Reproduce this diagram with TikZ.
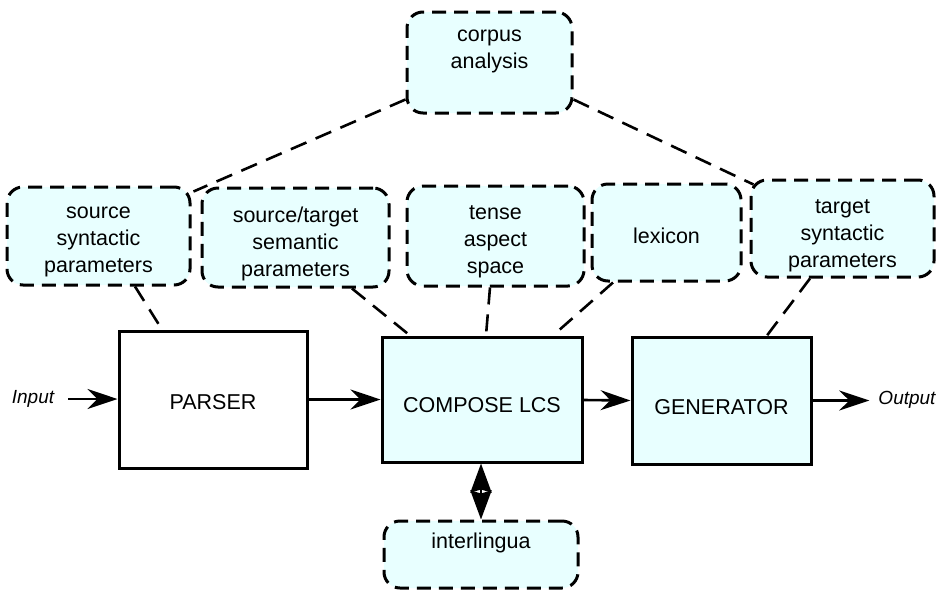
\documentclass[tikz,border=0pt]{standalone}
\usepackage{fontspec}
\setmainfont{Liberation Sans}
\usetikzlibrary{arrows.meta}
\definecolor{boxfill}{RGB}{232,255,255}
\begin{document}
\begin{tikzpicture}[x=1pt,y=-1pt,
  font=\fontsize{21.5}{27}\selectfont,
  dbox/.style={draw, line width=3pt, dash pattern=on 14pt off 8pt, rounded corners=16pt, fill=boxfill, inner sep=0pt},
  sbox/.style={draw, line width=3pt, inner sep=0pt},
  dline/.style={line width=2.6pt, dash pattern=on 17pt off 10pt},
  arr/.style={line width=2.6pt, -{Stealth[length=30pt,width=20pt,inset=10pt]}},
  dbl/.style={line width=2.6pt, {Stealth[length=29pt,width=21pt,inset=3pt]}-{Stealth[length=29pt,width=21pt,inset=3pt]}},
  io/.style={font=\fontsize{19}{22}\selectfont\itshape, inner sep=0pt},
  txt/.style={align=center, inner sep=0pt}]
\useasboundingbox (0,0) rectangle (938,590);

% dashed knowledge boxes
\node[dbox, minimum width=165pt, minimum height=101pt] (corpus) at (489.5,62.5) {};
\node[dbox, minimum width=183pt, minimum height=98pt] (srcsyn) at (98.5,236) {};
\node[dbox, minimum width=187pt, minimum height=99pt] (sem) at (295.5,237.5) {};
\node[dbox, minimum width=177pt, minimum height=100pt] (tense) at (495.5,236) {};
\node[dbox, minimum width=149pt, minimum height=97pt] (lexicon) at (666.5,232.5) {};
\node[dbox, minimum width=183pt, minimum height=97pt] (tgtsyn) at (842.5,228.5) {};
\node[dbox, minimum width=194pt, minimum height=67pt] (inter) at (481,554.5) {};

% solid process boxes
\node[sbox, minimum width=188pt, minimum height=137pt] (parser) at (213,399.5) {};
\node[sbox, fill=boxfill, minimum width=200pt, minimum height=125pt] (compose) at (482,399.5) {};
\node[sbox, fill=boxfill, minimum width=179pt, minimum height=127pt] (gen) at (721.5,400.5) {};

% texts
\node[txt] (corpusT) at (489.5,51) {corpus\\analysis};
\node[txt] (srcsynT) at (98.5,242) {source\\syntactic\\parameters};
\node[txt] (semT) at (295.5,244) {source/target\\semantic\\parameters};
\node[txt] (tenseT) at (495.5,242) {tense\\aspect\\space};
\node[txt] (lexiconT) at (666.5,235.5) {lexicon};
\node[txt] (tgtsynT) at (842.5,236) {target\\syntactic\\parameters};
\node[txt] (interT) at (481,543) {interlingua};
\node[txt] (parserT) at (213,402) {PARSER};
\node[txt] (composeT) at (482,405) {COMPOSE LCS};
\node[txt] (genT) at (721.5,407) {GENERATOR};

% input / output
\node[io] (input) at (33,399) {Input};
\node[io] (output) at (907,400) {Output};

% dashed connectors
\draw[dline] ([yshift=-37pt]corpus.west) -- ([xshift=2pt,yshift=-6pt]srcsyn.north east);
\draw[dline] ([yshift=-37pt]corpus.east) -- ([xshift=4pt,yshift=-6pt]tgtsyn.north west);
\draw[dline] ([xshift=36.5pt]srcsyn.south) -- ([xshift=-51pt]parser.north);
\draw[dline] ([xshift=56.5pt]sem.south) -- ([xshift=-72pt]compose.north);
\draw[dline] ([xshift=-5.5pt]tense.south) -- ([xshift=4pt]compose.north);
\draw[dline] ([xshift=-53.5pt]lexicon.south) -- ([xshift=71pt]compose.north);
\draw[dline] ([xshift=-32.5pt]tgtsyn.south) -- ([xshift=45.5pt]gen.north);

% solid arrows
\draw[arr, shorten <=14pt] (input.east) -- (parser.west |- input.east);
\draw[arr] (parser.east) -- (compose.west);
\draw[arr] ([yshift=-0.5pt]compose.east) -- (gen.west);
\draw[arr, shorten >=9pt] (gen.east) -- (output.west |- gen.east);
\draw[dbl] ([xshift=-1pt]compose.south) -- ([xshift=-1pt]compose.south |- inter.north);
\end{tikzpicture}
\end{document}
